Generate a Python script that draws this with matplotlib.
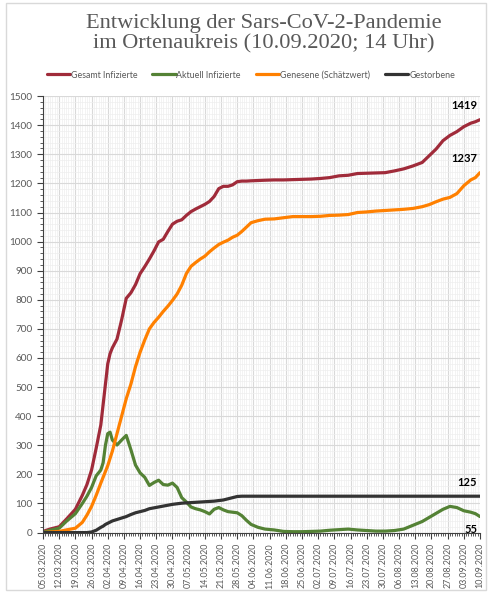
import pandas as pd
import matplotlib
import matplotlib.pyplot as plt
import matplotlib.dates as mdates
from matplotlib.ticker import MultipleLocator
from matplotlib.patches import Rectangle

matplotlib.use("Agg")

# Tage seit 05.03.2020
days = [0, 3, 7, 10, 14, 17, 19, 21, 23, 25, 26, 27, 28, 29, 30, 32, 34, 36, 38, 40,
        42, 44, 46, 48, 50, 52, 54, 56, 58, 60, 62, 64, 66, 68, 70, 72, 74, 76, 78, 80,
        82, 84, 86, 88, 90, 93, 96, 100, 104, 108, 112, 116, 120, 124, 128, 132, 136, 140, 144, 148,
        152, 156, 160, 164, 167, 170, 173, 176, 179, 182, 185, 187, 189]

gesamt = [4, 12, 20, 45, 80, 128, 165, 215, 290, 370, 440, 510, 580, 615, 635, 665, 731, 805, 824, 852,
          890, 914, 940, 968, 999, 1008, 1035, 1060, 1070, 1075, 1090, 1103, 1112, 1120, 1128, 1138, 1155, 1182, 1190, 1190,
          1195, 1206, 1208, 1208, 1209, 1210, 1211, 1212, 1212, 1213, 1214, 1215, 1217, 1220, 1226, 1228, 1234, 1235, 1236, 1237,
          1243, 1250, 1260, 1272, 1295, 1318, 1347, 1365, 1378, 1395, 1407, 1412, 1419]

aktuell = [1, 8, 15, 38, 65, 100, 125, 155, 195, 215, 240, 300, 340, 345, 318, 301, 318, 334, 285, 232,
           205, 190, 162, 172, 180, 165, 163, 170, 155, 120, 105, 88, 82, 78, 72, 64, 80, 86, 78, 72,
           70, 68, 58, 42, 28, 18, 12, 9, 4, 3, 3, 4, 5, 8, 10, 12, 9, 7, 5, 5,
           7, 12, 25, 38, 52, 66, 80, 90, 86, 75, 70, 65, 55]

genesen = [0, 2, 4, 9, 15, 35, 60, 90, 128, 170, 190, 210, 230, 255, 280, 340, 400, 460, 510, 570,
           620, 662, 700, 722, 740, 760, 778, 798, 820, 850, 890, 915, 928, 940, 950, 965, 978, 990, 998, 1005,
           1015, 1022, 1035, 1050, 1065, 1072, 1077, 1078, 1082, 1086, 1086, 1086, 1087, 1090, 1091, 1093, 1100, 1102, 1105, 1107,
           1109, 1111, 1114, 1120, 1127, 1137, 1146, 1152, 1165, 1192, 1212, 1220, 1237]

gestorben = [0, 0, 0, 0, 0, 0, 0, 2, 8, 18, 22, 28, 32, 36, 40, 45, 50, 55, 62, 68,
             72, 76, 82, 85, 88, 91, 94, 97, 99, 101, 102, 103, 104, 105, 106, 107, 108, 110, 112, 116,
             120, 124, 125, 125, 125, 125, 125, 125, 125, 125, 125, 125, 125, 125, 125, 125, 125, 125, 125, 125,
             125, 125, 125, 125, 125, 125, 125, 125, 125, 125, 125, 125, 125]

start = pd.Timestamp("2020-03-05")
dates = start + pd.to_timedelta(days, unit="D")
end = start + pd.Timedelta(days=189)

txt = "#595959"
fig = plt.figure(figsize=(4.91, 5.93), dpi=100)
fig.patches.append(Rectangle((0.012, 0.005), 0.978, 0.99, transform=fig.transFigure,
                             fill=False, edgecolor="#d9d9d9", linewidth=1))

ax = fig.add_axes([0.0876, 0.1019, 0.89, 0.736])

ax.plot(dates, gesamt, color="#a02b3a", lw=2.3, label="Gesamt Infizierte", solid_capstyle="round")
ax.plot(dates, aktuell, color="#548235", lw=2.3, label="Aktuell Infizierte", solid_capstyle="round")
ax.plot(dates, genesen, color="#ff8000", lw=2.3, label="Genesene (Schätzwert)", solid_capstyle="round")
ax.plot(dates, gestorben, color="#333333", lw=2.3, label="Gestorbene", solid_capstyle="round")

ax.set_xlim(start, end)
ax.set_ylim(0, 1500)
ax.xaxis.set_minor_locator(mdates.DayLocator())
ax.set_xticks(pd.date_range(start, end, freq="7D"))
ax.xaxis.set_major_formatter(mdates.DateFormatter("%d.%m.%Y"))
ax.yaxis.set_major_locator(MultipleLocator(100))
ax.yaxis.set_minor_locator(MultipleLocator(20))

ax.grid(which="major", color="#d9d9d9", lw=0.8)
ax.grid(which="minor", color="#eeeeee", lw=0.5)
ax.set_axisbelow(True)
for s in ["top", "right"]:
    ax.spines[s].set_visible(False)
ax.spines["left"].set_color("#404040")
ax.spines["bottom"].set_color("#404040")

ax.tick_params(axis="x", which="major", labelsize=6.4, labelcolor=txt, rotation=90, length=4, color="#404040")
ax.tick_params(axis="y", which="major", labelsize=7.2, labelcolor=txt, length=4, color="#404040")
ax.tick_params(which="minor", length=2, color="#404040")
for lab in ax.get_xticklabels() + ax.get_yticklabels():
    lab.set_fontfamily("Lato")

# Endwerte
ax.annotate("1419", (dates[-1], gesamt[-1]), xytext=(-2, 6), textcoords="offset points",
            ha="right", va="bottom", fontsize=8, fontweight="bold", family="Lato")
ax.annotate("1237", (dates[-1], genesen[-1]), xytext=(-2, 6), textcoords="offset points",
            ha="right", va="bottom", fontsize=8, fontweight="bold", family="Lato")
ax.annotate("125", (dates[-1], gestorben[-1]), xytext=(-2, 6), textcoords="offset points",
            ha="right", va="bottom", fontsize=8, fontweight="bold", family="Lato")
ax.annotate("55", (dates[-1], aktuell[-1]), xytext=(-2, -5), textcoords="offset points",
            ha="right", va="top", fontsize=8, fontweight="bold", family="Lato")

fig.text(0.537, 0.977, "Entwicklung der Sars-CoV-2-Pandemie\nim Ortenaukreis (10.09.2020; 14 Uhr)",
         ha="center", va="top", fontsize=16.1, color=txt, family="Liberation Serif", linespacing=1.1)

fig.legend(loc="center", bbox_to_anchor=(0.511, 0.8735), ncol=4, frameon=False,
           prop={"family": "Lato", "size": 6.4}, labelcolor=txt, handlelength=2.6,
           handletextpad=0.1, columnspacing=1.7)

plt.savefig("out.png", dpi=100)
